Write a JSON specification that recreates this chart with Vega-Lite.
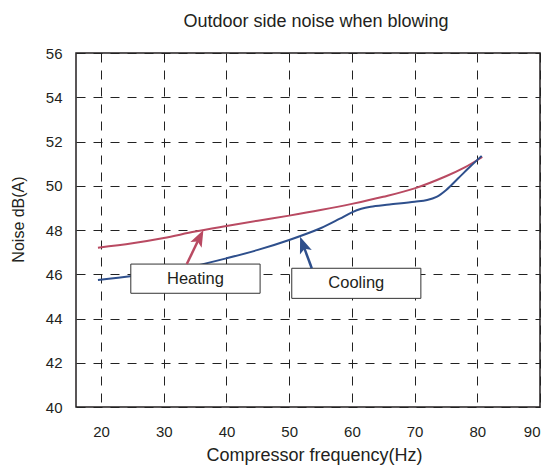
{
  "$schema": "https://vega.github.io/schema/vega-lite/v6.json",
  "width": 464,
  "height": 354,
  "autosize": {"type": "none"},
  "padding": {"left": 76, "top": 53, "right": 11, "bottom": 62},
  "background": "white",
  "config": {
    "font": "Liberation Sans",
    "view": {"stroke": "#231f20", "strokeWidth": 1.5},
    "axis": {
      "labelFont": "Liberation Sans",
      "labelFontSize": 15,
      "labelColor": "#231f20",
      "titleFont": "Liberation Sans",
      "titleFontSize": 16,
      "titleFontWeight": "normal",
      "titleColor": "#231f20",
      "ticks": false,
      "tickSize": 0,
      "domain": false,
      "grid": true,
      "gridColor": "#222222",
      "gridOpacity": 1,
      "gridWidth": 1,
      "gridDash": [9, 8]
    }
  },
  "title": {
    "text": "Outdoor side noise when blowing",
    "font": "Liberation Sans",
    "fontSize": 18,
    "fontWeight": "normal",
    "color": "#231f20",
    "anchor": "middle",
    "offset": 15,
    "dx": 8
  },
  "datasets": {
    "curves": [
      {"series": "Heating", "freq": 19.5, "noise": 47.2},
      {"series": "Heating", "freq": 25, "noise": 47.4},
      {"series": "Heating", "freq": 30, "noise": 47.64},
      {"series": "Heating", "freq": 35, "noise": 47.93},
      {"series": "Heating", "freq": 40, "noise": 48.18},
      {"series": "Heating", "freq": 45, "noise": 48.42},
      {"series": "Heating", "freq": 50, "noise": 48.65},
      {"series": "Heating", "freq": 55, "noise": 48.9},
      {"series": "Heating", "freq": 60, "noise": 49.18},
      {"series": "Heating", "freq": 65, "noise": 49.5},
      {"series": "Heating", "freq": 70, "noise": 49.88},
      {"series": "Heating", "freq": 75, "noise": 50.43},
      {"series": "Heating", "freq": 78, "noise": 50.83},
      {"series": "Heating", "freq": 80.8, "noise": 51.3},
      {"series": "Cooling", "freq": 19.5, "noise": 45.74},
      {"series": "Cooling", "freq": 25, "noise": 45.92},
      {"series": "Cooling", "freq": 30, "noise": 46.12},
      {"series": "Cooling", "freq": 35, "noise": 46.38},
      {"series": "Cooling", "freq": 40, "noise": 46.72},
      {"series": "Cooling", "freq": 45, "noise": 47.1},
      {"series": "Cooling", "freq": 50, "noise": 47.55},
      {"series": "Cooling", "freq": 55, "noise": 48.08},
      {"series": "Cooling", "freq": 58, "noise": 48.5},
      {"series": "Cooling", "freq": 60, "noise": 48.8},
      {"series": "Cooling", "freq": 61.5, "noise": 48.96},
      {"series": "Cooling", "freq": 63, "noise": 49.05},
      {"series": "Cooling", "freq": 66, "noise": 49.15},
      {"series": "Cooling", "freq": 70, "noise": 49.28},
      {"series": "Cooling", "freq": 72, "noise": 49.36},
      {"series": "Cooling", "freq": 73.5, "noise": 49.5},
      {"series": "Cooling", "freq": 75, "noise": 49.8},
      {"series": "Cooling", "freq": 77, "noise": 50.35},
      {"series": "Cooling", "freq": 79, "noise": 50.9},
      {"series": "Cooling", "freq": 80.7, "noise": 51.35}
    ],
    "boxes": [
      {"label": "Heating", "x1": 24.74, "x2": 45.36, "y1": 45.14, "y2": 46.46, "xc": 35.05, "yc": 45.8},
      {"label": "Cooling", "x1": 50.41, "x2": 71.0, "y1": 44.91, "y2": 46.27, "xc": 60.7, "yc": 45.59}
    ],
    "heatArrow": [
      {"bx": 33.67, "by": 46.46, "ex": 35.74, "ey": 47.68, "tx": 36.32, "ty": 48.0}
    ],
    "coolArrow": [
      {"bx": 53.6, "by": 46.27, "ex": 52.18, "ey": 47.36, "tx": 51.74, "ty": 47.7}
    ]
  },
  "layer": [
    {
      "data": {"name": "curves"},
      "mark": {"type": "line", "interpolate": "catmull-rom", "strokeWidth": 2},
      "encoding": {
        "x": {
          "field": "freq", "type": "quantitative",
          "scale": {"domain": [16, 90], "nice": false, "zero": false},
          "axis": {"values": [20, 30, 40, 50, 60, 70, 80, 90], "title": "Compressor frequency(Hz)", "titleFontSize": 18, "labelPadding": 17, "titleY": 48, "titleBaseline": "middle", "titleX": 238}
        },
        "y": {
          "field": "noise", "type": "quantitative",
          "scale": {"domain": [40, 56], "nice": false, "zero": false},
          "axis": {"values": [40, 42, 44, 46, 48, 50, 52, 54, 56], "title": "Noise dB(A)", "labelPadding": 14, "titleX": -58, "titleY": 166, "titleBaseline": "middle"}
        },
        "color": {
          "field": "series", "type": "nominal",
          "scale": {"domain": ["Heating", "Cooling"], "range": ["#b94a62", "#2e4f8c"]},
          "legend": null
        }
      }
    },
    {
      "data": {"name": "boxes"},
      "mark": {"type": "rect", "fill": "white", "stroke": "#333333", "strokeWidth": 1},
      "encoding": {
        "x": {"field": "x1", "type": "quantitative"},
        "x2": {"field": "x2"},
        "y": {"field": "y1", "type": "quantitative"},
        "y2": {"field": "y2"}
      }
    },
    {
      "data": {"name": "boxes"},
      "mark": {"type": "text", "font": "Liberation Sans", "fontSize": 16.5, "color": "#231f20", "align": "center", "baseline": "middle"},
      "encoding": {
        "x": {"field": "xc", "type": "quantitative"},
        "y": {"field": "yc", "type": "quantitative"},
        "text": {"field": "label"}
      }
    },
    {
      "data": {"name": "heatArrow"},
      "mark": {"type": "rule", "color": "#b94a62", "strokeWidth": 2.5},
      "encoding": {
        "x": {"field": "bx", "type": "quantitative"},
        "y": {"field": "by", "type": "quantitative"},
        "x2": {"field": "ex"},
        "y2": {"field": "ey"}
      }
    },
    {
      "data": {"name": "heatArrow"},
      "mark": {"type": "point", "shape": "M0,0L-0.38,1L0,0.78L0.38,1Z", "filled": true, "color": "#b94a62", "opacity": 1, "size": 1100, "angle": 26.5},
      "encoding": {
        "x": {"field": "tx", "type": "quantitative"},
        "y": {"field": "ty", "type": "quantitative"}
      }
    },
    {
      "data": {"name": "coolArrow"},
      "mark": {"type": "rule", "color": "#2e4f8c", "strokeWidth": 2.5},
      "encoding": {
        "x": {"field": "bx", "type": "quantitative"},
        "y": {"field": "by", "type": "quantitative"},
        "x2": {"field": "ex"},
        "y2": {"field": "ey"}
      }
    },
    {
      "data": {"name": "coolArrow"},
      "mark": {"type": "point", "shape": "M0,0L-0.38,1L0,0.78L0.38,1Z", "filled": true, "color": "#2e4f8c", "opacity": 1, "size": 1100, "angle": 339.7},
      "encoding": {
        "x": {"field": "tx", "type": "quantitative"},
        "y": {"field": "ty", "type": "quantitative"}
      }
    }
  ]
}
